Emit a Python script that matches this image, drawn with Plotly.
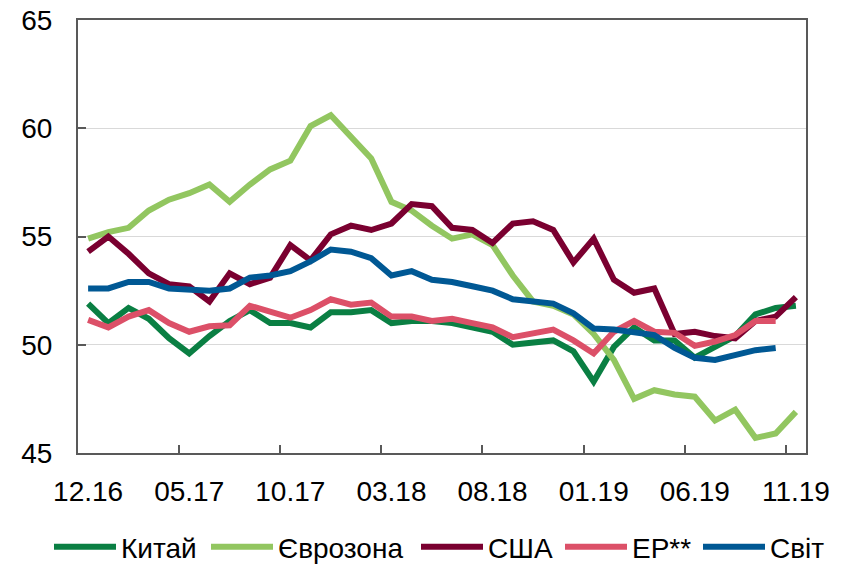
import plotly.graph_objects as go

months = ["12.16", "01.17", "02.17", "03.17", "04.17", "05.17", "06.17", "07.17", "08.17",
          "09.17", "10.17", "11.17", "12.17", "01.18", "02.18", "03.18", "04.18", "05.18",
          "06.18", "07.18", "08.18", "09.18", "10.18", "11.18", "12.18", "01.19", "02.19",
          "03.19", "04.19", "05.19", "06.19", "07.19", "08.19", "09.19", "10.19", "11.19"]

china = [51.9, 51.0, 51.7, 51.2, 50.3, 49.6, 50.4, 51.1, 51.6, 51.0, 51.0, 50.8,
         51.5, 51.5, 51.6, 51.0, 51.1, 51.1, 51.0, 50.8, 50.6, 50.0, 50.1, 50.2,
         49.7, 48.3, 49.9, 50.8, 50.2, 50.2, 49.4, 49.9, 50.4, 51.4, 51.7, 51.8]
eurozone = [54.9, 55.2, 55.4, 56.2, 56.7, 57.0, 57.4, 56.6, 57.4, 58.1, 58.5, 60.1,
            60.6, 59.6, 58.6, 56.6, 56.2, 55.5, 54.9, 55.1, 54.6, 53.2, 52.0, 51.8,
            51.4, 50.5, 49.3, 47.5, 47.9, 47.7, 47.6, 46.5, 47.0, 45.7, 45.9, 46.9]
usa = [54.3, 55.0, 54.2, 53.3, 52.8, 52.7, 52.0, 53.3, 52.8, 53.1, 54.6, 53.9,
       55.1, 55.5, 55.3, 55.6, 56.5, 56.4, 55.4, 55.3, 54.7, 55.6, 55.7, 55.3,
       53.8, 54.9, 53.0, 52.4, 52.6, 50.5, 50.6, 50.4, 50.3, 51.1, 51.3, 52.2]
em = [51.15, 50.8, 51.3, 51.6, 51.0, 50.6, 50.85, 50.9, 51.8, 51.5, 51.25, 51.6,
      52.1, 51.85, 51.95, 51.3, 51.3, 51.1, 51.2, 51.0, 50.8, 50.35, 50.55, 50.7,
      50.2, 49.6, 50.6, 51.1, 50.6, 50.55, 49.95, 50.15, 50.45, 51.1, 51.1]
world = [52.6, 52.6, 52.9, 52.9, 52.6, 52.55, 52.5, 52.6, 53.1, 53.2, 53.4, 53.85,
         54.4, 54.3, 54.0, 53.2, 53.4, 53.0, 52.9, 52.7, 52.5, 52.1, 52.0, 51.9,
         51.45, 50.75, 50.7, 50.55, 50.45, 49.85, 49.4, 49.3, 49.55, 49.75, 49.85]

series = [
    ("Китай", china, "#0A7F43"),
    ("Єврозона", eurozone, "#92C660"),
    ("США", usa, "#7A0030"),
    ("ЕР**", em, "#DC5068"),
    ("Світ", world, "#005894"),
]

# the page body adds an 8px offset; the figure is laid out to compensate
W, H = 840, 564
legend_left = [41, 198, 408, 552, 690]

font = dict(family="Liberation Sans, Arial, sans-serif", size=28, color="#000000")
axis_color = "#595959"

fig = go.Figure()
layout_legends = {}
for k, ((name, vals, color), lx) in enumerate(zip(series, legend_left)):
    lname = "legend" if k == 0 else f"legend{k + 1}"
    fig.add_trace(go.Scatter(
        x=months[:len(vals)], y=vals, name=name, mode="lines",
        line=dict(color=color, width=6), legend=lname,
    ))
    layout_legends[lname] = dict(
        orientation="h", xref="container", yref="container",
        x=lx / W, xanchor="left", y=0, yanchor="bottom",
        font=font, itemwidth=62, bgcolor="rgba(0,0,0,0)",
    )

fig.update_layout(
    width=W, height=H,
    margin=dict(l=70, r=42, t=12, b=119, autoexpand=False),
    paper_bgcolor="white", plot_bgcolor="white",
    font=font,
    showlegend=True,
    xaxis=dict(
        type="category", categoryorder="array", categoryarray=months,
        range=[-0.5, len(months) - 0.5],
        dtick=5, tick0=0, tickson="boundaries", tickangle=0,
        ticks="inside", ticklen=8, tickwidth=1.5, tickcolor=axis_color,
        showline=True, linecolor=axis_color, linewidth=2, mirror=True,
        showgrid=False, zeroline=False, automargin=False,
        ticklabelstandoff=12, ticklabeloverflow="allow",
    ),
    yaxis=dict(
        range=[45, 65], dtick=5, tick0=45,
        ticks="inside", ticklen=8, tickwidth=1.5, tickcolor=axis_color,
        showline=True, linecolor=axis_color, linewidth=2, mirror=True,
        showgrid=True, gridcolor="#D9D9D9", gridwidth=1, zeroline=False,
        automargin=False, ticklabelstandoff=18, ticklabeloverflow="allow",
    ),
    **layout_legends,
)

fig.write_html("out.html")
